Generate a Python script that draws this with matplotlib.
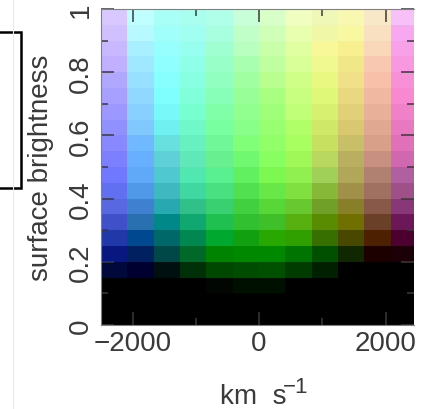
import numpy as np
import matplotlib
matplotlib.use("Agg")
import matplotlib.pyplot as plt
from matplotlib.colors import to_rgb
from matplotlib.patches import Rectangle
from matplotlib.lines import Line2D

plt.rcParams['font.family'] = ['Liberation Sans', 'DejaVu Sans']

# bin edges of the colour key
velocity_edges = [-2500, -2083, -1667, -1250, -833, -417, 0, 417, 833, 1250, 1667, 2083, 2500]
brightness_edges = [0.0, 0.05, 0.1, 0.15, 0.2, 0.25, 0.3, 0.35, 0.4, 0.45, 0.5,
                    0.55, 0.6, 0.65, 0.7, 0.75, 0.8, 0.85, 0.9, 0.95, 1.0]

# cell colours per velocity column, from brightness 0 (bottom) to 1 (top)
col_m2500 = ['#000000', '#000000', '#000000', '#00083c', '#081880', '#2038a8', '#4050c8', '#5868e0', '#6070f0', '#7078ff',
             '#7c80ff', '#8888ff', '#9090ff', '#9c98ff', '#a8a0ff', '#b0a8ff', '#c0b0ff', '#c8b8ff', '#d0c0ff', '#d8c8ff']
col_m2083 = ['#000000', '#000000', '#000000', '#000030', '#002060', '#004890', '#2870b0', '#4080d0', '#5098e8', '#60a8f8',
             '#68b0ff', '#70b8ff', '#80c8ff', '#88d0ff', '#90d8ff', '#98e0ff', '#a0e8ff', '#a8f0ff', '#b8f8ff', '#c0ffff']
col_m1667 = ['#000000', '#000000', '#000000', '#001010', '#004848', '#006868', '#008888', '#28a8b0', '#40b8c0', '#50c8d0',
             '#60d0d8', '#68e0e0', '#70f0f0', '#78f8f8', '#80ffff', '#88ffff', '#90ffff', '#98ffff', '#a0fffa', '#a8fff8']
col_m1250 = ['#000000', '#000000', '#000000', '#003008', '#006828', '#008850', '#10a870', '#30c088', '#40d8a0', '#50e8b0',
             '#60e8b8', '#68f0c0', '#70f8c8', '#78ffd0', '#80ffd8', '#88ffe0', '#90ffe8', '#98fff0', '#a0fff0', '#a8fff0']
col_m833 = ['#000000', '#000000', '#020602', '#004800', '#008400', '#00a830', '#20c050', '#38d070', '#48e080', '#58f090',
            '#68f090', '#70f898', '#78ffa0', '#80ffa8', '#88ffb8', '#90ffc0', '#98ffc8', '#a0ffd0', '#a8ffe0', '#b0ffe8']
col_m417 = ['#000000', '#000000', '#001000', '#004c00', '#008800', '#10a010', '#30c030', '#40d040', '#50e050', '#60f060',
            '#70f870', '#80ff78', '#88ff88', '#90ff90', '#98ff98', '#a0ffa0', '#a8ffb0', '#b8ffc0', '#c0ffc8', '#c8ffd8']
col_0 = ['#000000', '#000000', '#001000', '#005000', '#008800', '#28a800', '#40c028', '#58d838', '#68e848', '#7cf850',
         '#88ff60', '#90ff68', '#98ff70', '#a0ff78', '#a8ff80', '#b8ff90', '#c0ffa0', '#c8ffa8', '#d0ffb8', '#d8ffc8']
col_417 = ['#000000', '#000000', '#000000', '#003c00', '#007400', '#30a000', '#58b010', '#68c830', '#80e040', '#90f050',
           '#a0f858', '#a8ff60', '#b0ff68', '#c0ff78', '#c8ff80', '#d0ff88', '#d8ff98', '#e0ffa0', '#e8ffb0', '#f0ffc0']
col_833 = ['#000000', '#000000', '#000000', '#002000', '#005000', '#387000', '#5a8c00', '#70a028', '#88b838', '#a0d058',
           '#b8d860', '#c8e060', '#d0e868', '#d8f070', '#e0f878', '#e8f880', '#f0f890', '#f8f898', '#f0f8a8', '#f0f8b8']
col_1250 = ['#000000', '#000000', '#000000', '#000000', '#102800', '#484800', '#707000', '#888028', '#a09048', '#b0a858',
            '#b8b060', '#c8c068', '#d8c870', '#e0d078', '#e8d880', '#f0e088', '#f0e888', '#f8f090', '#f8f8a0', '#f8f8b0']
col_1667 = ['#000000', '#000000', '#000000', '#000000', '#1c0000', '#4c2000', '#6a4028', '#885848', '#a07060', '#b08070',
            '#c89080', '#d8a088', '#e0a890', '#e8b098', '#f0b8a0', '#f8c0a8', '#f8c8b0', '#f8d8b8', '#f8e0c0', '#f8e8c8']
col_2083 = ['#000000', '#000000', '#000000', '#000000', '#1c0008', '#4c0030', '#6c1858', '#883878', '#a05088', '#b060a0',
            '#d068b0', '#e070b8', '#e878c0', '#f080c8', '#f888d0', '#f890d8', '#f898e0', '#f8a0e8', '#f8a8f0', '#f8c0f8']

columns = [col_m2500, col_m2083, col_m1667, col_m1250, col_m833, col_m417,
           col_0, col_417, col_833, col_1250, col_1667, col_2083]
rgb = np.array([[to_rgb(c) for c in col] for col in columns]).transpose(1, 0, 2)

xticks = [-2000, 0, 2000]
xminor = [-1000, 1000]
yticks = [0, 0.2, 0.4, 0.6, 0.8, 1]
yticklabels = ['0', '0.2', '0.4', '0.6', '0.8', '1']
yminor = [0.1, 0.3, 0.5, 0.7, 0.9]

fig = plt.figure(figsize=(4.32, 4.10), dpi=100)
ax = fig.add_axes([101 / 432, 84 / 410, 313 / 432, 316 / 410])

ax.imshow(rgb, origin='lower', aspect='auto', interpolation='nearest',
          extent=[velocity_edges[0], velocity_edges[-1], brightness_edges[0], brightness_edges[-1]])
ax.set_xlim(-2500, 2450)
ax.set_ylim(0, 1)

ax.set_xticks(xticks)
ax.set_xticks(xminor, minor=True)
ax.set_xticklabels(['\u22122000', '0', '2000'])
ax.set_yticks(yticks)
ax.set_yticks(yminor, minor=True)
ax.set_yticklabels(yticklabels, rotation=90, va='center')

ax.tick_params(which='both', direction='in', top=True, right=True, color='#3a3a3a', width=1.1,
               labelsize=20, labelcolor='#3a3a3a')
ax.tick_params(which='major', length=9.4)
ax.tick_params(which='minor', length=4.7)
ax.tick_params(axis='y', pad=5)
ax.tick_params(axis='x', pad=3.5)

for side in ['left', 'top', 'bottom']:
    ax.spines[side].set_color('#808080')
    ax.spines[side].set_linewidth(0.8)
ax.spines['right'].set_visible(False)

fig.text(41.5 / 432, (410 - 168) / 410, 'surface brightness', rotation=90,
         ha='center', va='center', fontsize=20, color='#3a3a3a')
# axis unit, superscript drawn as its own raised text
fig.text(220 / 432, (410 - 404) / 410, 'km  s', ha='left', va='baseline',
         fontsize=20, color='#3a3a3a')
fig.text(283 / 432, (410 - 393) / 410, '\u22121', ha='left', va='baseline',
         fontsize=16, color='#3a3a3a')

# pieces of the neighbouring panel
fig.add_artist(Rectangle((-0.05, (410 - 189) / 410), 0.05 + 21 / 432, 156 / 410,
                         transform=fig.transFigure, fill=False, edgecolor='black', linewidth=1.8))
fig.add_artist(Line2D([13 / 432, 13 / 432], [0, 1], transform=fig.transFigure,
                      color='#ebebeb', linewidth=0.8))

fig.savefig('out.png', dpi=100)
